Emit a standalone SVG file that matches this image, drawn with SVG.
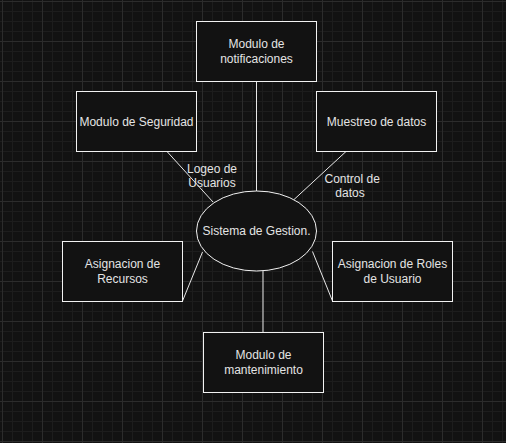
<svg xmlns="http://www.w3.org/2000/svg" width="506" height="443" viewBox="0 0 506 443">
<defs>
<pattern id="grid" x="2" y="1" width="40" height="40" patternUnits="userSpaceOnUse">
<path d="M10.5 0V40M20.5 0V40M30.5 0V40M0 10.5H40M0 20.5H40M0 30.5H40" stroke="#1d1d1d" stroke-width="1" fill="none"/>
<path d="M0.5 0V40M0 0.5H40" stroke="#2c2c2c" stroke-width="1" fill="none"/>
</pattern>
<style>
.box{fill:#121212;stroke:#f2f2f2;stroke-width:1}
.t{font-family:"Liberation Sans",Arial,sans-serif;font-size:12px;fill:#e4e4e4;text-anchor:middle}
.c{stroke:#e8e8e8;stroke-width:1;fill:none}
</style>
</defs>
<rect width="506" height="443" fill="#121212"/>
<rect width="506" height="443" fill="url(#grid)"/>
<g id="connectors">
<path class="c" d="M256.5 81.5V191"/>
<path class="c" d="M167 151.5L213 202"/>
<path class="c" d="M346 151.5L293.5 200"/>
<path class="c" d="M202.5 252L182.5 301"/>
<path class="c" d="M312.5 251.5L332.5 301"/>
<path class="c" d="M263 271V332.5"/>
</g>
<g id="label-logeo">
<text class="t" x="212" y="173.3">Logeo de</text>
<text class="t" x="212" y="187.3">Usuarios</text>
</g>
<g id="label-control">
<text class="t" x="352.2" y="183.3">Control de</text>
<text class="t" x="350" y="197.3">datos</text>
</g>
<g id="notificaciones">
<rect class="box" x="196.5" y="21.5" width="120" height="60"/>
<text class="t" x="256.5" y="48">Modulo de</text>
<text class="t" x="256.5" y="62.5">notificaciones</text>
</g>
<g id="seguridad">
<rect class="box" x="76.5" y="91.5" width="120" height="60"/>
<text class="t" x="136.5" y="125.5">Modulo de Seguridad</text>
</g>
<g id="muestreo">
<rect class="box" x="316.5" y="91.5" width="120" height="60"/>
<text class="t" x="376.5" y="125.5">Muestreo de datos</text>
</g>
<g id="sistema">
<ellipse class="box" cx="256.5" cy="231" rx="60" ry="40"/>
<text class="t" x="256.5" y="235">Sistema de Gestion.</text>
</g>
<g id="recursos">
<rect class="box" x="62.5" y="241.5" width="120" height="60"/>
<text class="t" x="122.5" y="268">Asignacion de</text>
<text class="t" x="122.5" y="282.5">Recursos</text>
</g>
<g id="roles">
<rect class="box" x="332.5" y="241.5" width="120" height="60"/>
<text class="t" x="392.5" y="268">Asignacion de Roles</text>
<text class="t" x="392.5" y="282.5">de Usuario</text>
</g>
<g id="mantenimiento">
<rect class="box" x="203.5" y="332.5" width="120" height="60"/>
<text class="t" x="263.5" y="359.3">Modulo de</text>
<text class="t" x="263.5" y="373.8">mantenimiento</text>
</g>
</svg>
